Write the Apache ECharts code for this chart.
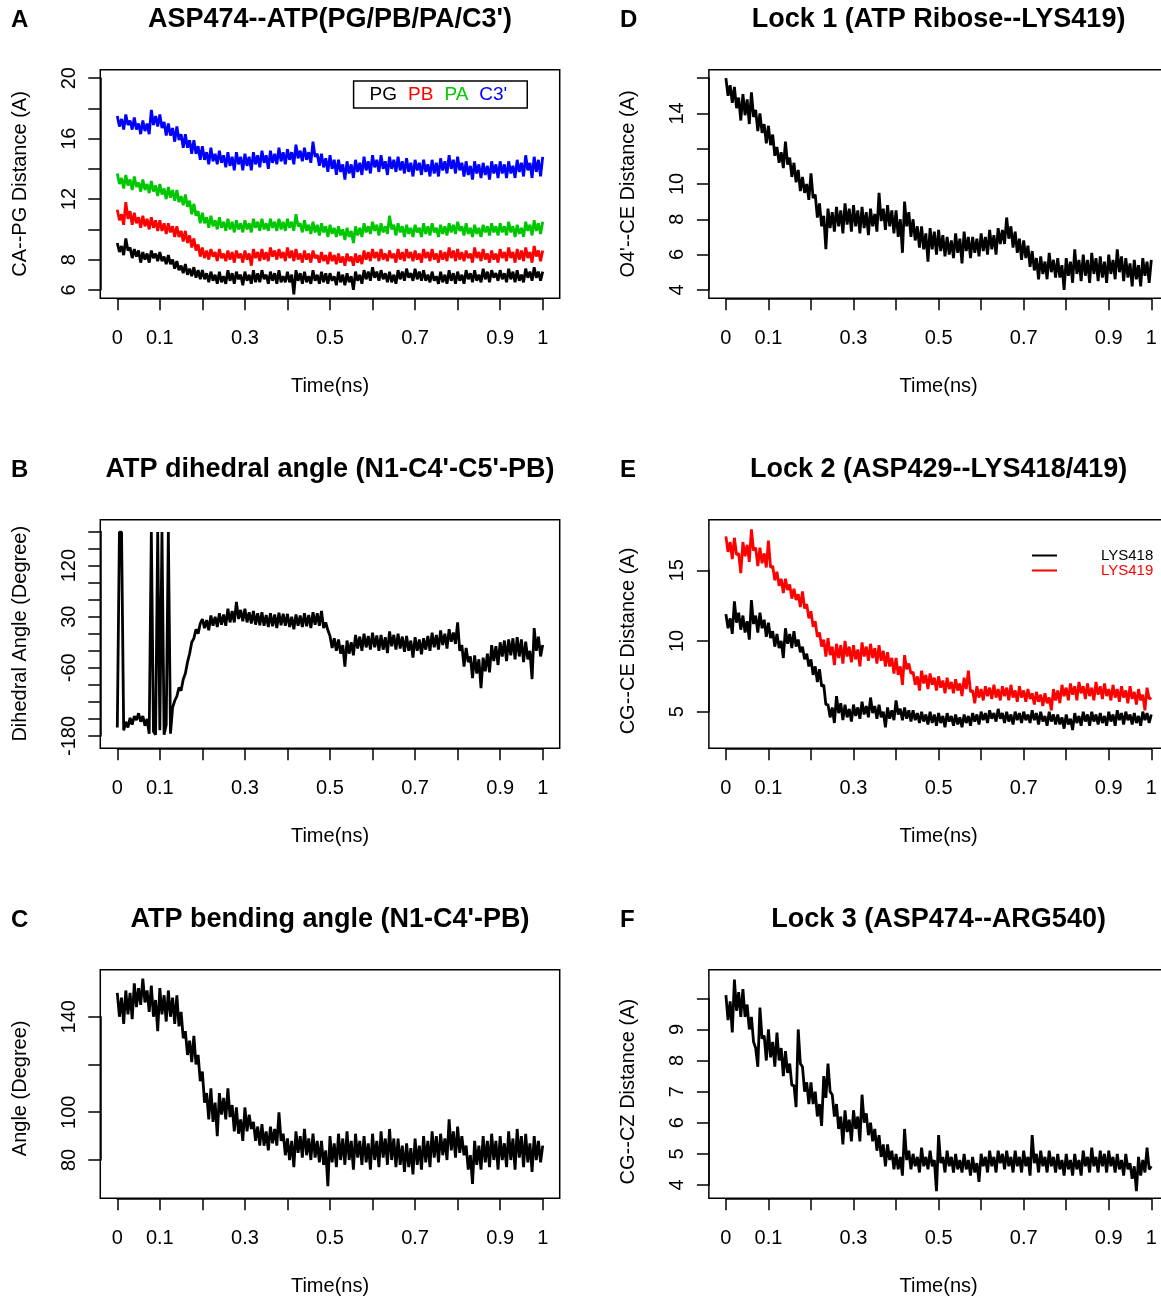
<!DOCTYPE html>
<html>
<head>
<meta charset="utf-8">
<title>ATP lock distances</title>
<script src="https://cdn.jsdelivr.net/npm/echarts@6/dist/echarts.min.js"></script>
<style>
  html, body { margin: 0; padding: 0; background: #fff; overflow: hidden; }
  #chart { width: 1180px; height: 1296px; }
</style>
</head>
<body>
<div id="chart"></div>
<script>
// values, one sample every 0.005 ns (0 .. 1 ns)
const pgDist = [
  9.1, 8.5, 8.9, 8.3, 9.4, 8.6, 8.8, 8.1, 8.7, 8.2, 8.6, 7.8, 8.5, 8.0, 8.4, 7.8, 8.6, 8.1, 8.4, 7.9,
  8.5, 7.9, 8.2, 7.7, 8.3, 7.7, 8.0, 7.4, 7.9, 7.3, 7.6, 7.1, 7.7, 7.0, 7.4, 6.9, 7.5, 6.8, 7.3, 6.7,
  7.3, 6.7, 7.1, 6.5, 7.2, 6.6, 7.0, 6.4, 7.2, 6.5, 6.9, 6.4, 7.3, 6.6, 7.1, 6.4, 7.2, 6.7, 7.0, 6.3,
  7.2, 6.6, 7.0, 6.4, 7.3, 6.5, 7.1, 6.5, 7.3, 6.7, 7.0, 6.4, 7.2, 6.6, 7.1, 6.4, 7.3, 6.5, 6.9, 6.5,
  7.2, 6.5, 7.0, 5.7, 7.3, 6.6, 7.1, 6.4, 7.2, 6.5, 6.9, 6.4, 7.3, 6.6, 7.0, 6.4, 7.2, 6.5, 7.1, 6.4,
  7.1, 6.6, 6.9, 6.3, 7.2, 6.5, 7.0, 6.3, 7.1, 6.5, 6.9, 6.0, 7.2, 6.6, 7.0, 6.4, 7.3, 6.7, 7.2, 6.6,
  7.5, 6.8, 7.2, 6.6, 7.3, 6.7, 7.1, 6.5, 7.2, 6.5, 7.0, 6.4, 7.3, 6.7, 7.2, 6.6, 7.4, 6.8, 7.1, 6.6,
  7.4, 6.7, 7.2, 6.6, 7.3, 6.6, 7.0, 6.5, 7.2, 6.6, 6.9, 6.4, 7.2, 6.5, 7.0, 6.4, 7.3, 6.6, 7.1, 6.4,
  7.2, 6.6, 7.0, 6.4, 7.3, 6.7, 7.1, 6.5, 7.3, 6.6, 7.0, 6.5, 7.4, 6.7, 7.2, 6.5, 7.3, 6.8, 7.1, 6.6,
  7.3, 6.7, 7.1, 6.5, 7.4, 6.7, 7.2, 6.5, 7.3, 6.6, 7.0, 6.5, 7.4, 6.8, 7.2, 6.6, 7.5, 6.8, 7.2, 6.6,
  7.2
];
const pbDist = [
  11.3, 10.6, 11.0, 10.3, 11.8, 10.7, 11.2, 10.3, 11.1, 10.4, 10.8, 10.1, 10.9, 10.2, 10.7, 10.0, 10.8, 10.1, 10.6, 9.9,
  10.6, 9.9, 10.4, 9.7, 10.4, 9.8, 10.2, 9.5, 10.2, 9.5, 9.9, 9.2, 9.9, 9.1, 9.6, 8.8, 9.4, 8.6, 9.0, 8.2,
  8.8, 8.1, 8.6, 8.0, 8.7, 8.2, 8.5, 7.9, 8.7, 8.1, 8.4, 7.9, 8.6, 8.0, 8.5, 7.8, 8.6, 8.1, 8.4, 7.8,
  8.6, 8.0, 8.4, 7.6, 8.7, 8.1, 8.5, 7.9, 8.7, 8.0, 8.5, 7.9, 8.8, 8.2, 8.6, 8.0, 8.7, 8.1, 8.5, 7.9,
  8.8, 8.1, 8.6, 7.9, 8.7, 8.0, 8.4, 7.8, 8.6, 8.0, 8.4, 7.8, 8.6, 8.1, 8.3, 7.8, 8.5, 7.9, 8.3, 7.7,
  8.5, 7.9, 8.3, 7.7, 8.4, 7.8, 8.2, 7.6, 8.4, 7.9, 8.2, 7.6, 8.4, 7.8, 8.3, 7.7, 8.6, 8.0, 8.5, 7.9,
  8.7, 8.1, 8.5, 7.9, 8.7, 8.0, 8.4, 7.9, 8.6, 8.1, 8.4, 7.8, 8.7, 8.0, 8.5, 7.9, 8.7, 8.1, 8.5, 7.9,
  8.6, 8.0, 8.4, 7.8, 8.7, 8.1, 8.5, 7.9, 8.7, 8.0, 8.4, 7.8, 8.6, 8.0, 8.5, 7.9, 8.8, 8.1, 8.6, 7.9,
  8.7, 8.0, 8.5, 7.9, 8.6, 8.1, 8.4, 7.8, 8.8, 8.1, 8.5, 7.9, 8.7, 8.0, 8.4, 7.8, 8.6, 8.0, 8.4, 7.8,
  8.7, 8.1, 8.5, 7.9, 8.8, 8.1, 8.5, 7.8, 8.7, 8.0, 8.6, 7.9, 8.8, 8.1, 8.5, 7.8, 8.9, 8.2, 8.6, 7.9,
  8.6
];
const paDist = [
  13.7, 13.0, 13.4, 12.7, 13.6, 12.9, 13.3, 12.6, 13.5, 12.8, 13.1, 12.5, 13.3, 12.6, 13.0, 12.4, 13.2, 12.5, 12.9, 12.2,
  13.0, 12.3, 12.7, 12.0, 12.8, 12.1, 12.6, 11.9, 12.6, 11.8, 12.2, 11.6, 12.3, 11.5, 11.9, 11.0, 11.7, 10.9, 11.2, 10.4,
  11.1, 10.4, 10.8, 10.1, 10.9, 10.2, 10.6, 10.0, 10.8, 10.1, 10.5, 9.9, 10.7, 10.0, 10.5, 9.8, 10.6, 10.0, 10.4, 9.8,
  10.6, 10.0, 10.4, 9.8, 10.7, 10.1, 10.5, 9.9, 10.7, 10.0, 10.4, 9.9, 10.7, 10.1, 10.5, 9.9, 10.7, 10.0, 10.5, 9.9,
  10.7, 10.1, 10.5, 9.9, 11.0, 10.2, 10.4, 9.8, 10.6, 9.9, 10.3, 9.7, 10.5, 9.8, 10.3, 9.6, 10.4, 9.8, 10.2, 9.5,
  10.3, 9.7, 10.1, 9.5, 10.2, 9.6, 10.0, 9.3, 10.1, 9.5, 9.9, 9.1, 10.2, 9.6, 10.1, 9.5, 10.4, 9.8, 10.2, 9.7,
  10.5, 9.9, 10.3, 9.6, 10.4, 9.8, 10.2, 9.7, 10.9, 10.0, 10.3, 9.6, 10.4, 9.8, 10.2, 9.5, 10.3, 9.7, 10.1, 9.5,
  10.3, 9.8, 10.1, 9.5, 10.4, 9.7, 10.2, 9.6, 10.4, 9.8, 10.1, 9.5, 10.3, 9.7, 10.2, 9.6, 10.4, 9.8, 10.3, 9.7,
  10.5, 9.9, 10.2, 9.6, 10.4, 9.7, 10.1, 9.5, 10.3, 9.7, 10.1, 9.5, 10.3, 9.8, 10.2, 9.6, 10.4, 9.8, 10.2, 9.6,
  10.4, 9.8, 10.2, 9.6, 10.5, 9.8, 10.2, 9.5, 10.3, 9.7, 10.1, 9.5, 10.5, 9.9, 10.3, 9.6, 10.6, 9.9, 10.4, 9.7,
  10.5
];
const c3Dist = [
  17.5, 16.8, 17.3, 16.6, 17.6, 16.9, 17.2, 16.6, 17.4, 16.6, 17.0, 16.3, 17.2, 16.5, 17.0, 16.3, 17.9, 16.9, 17.5, 16.8,
  17.6, 16.7, 17.1, 16.2, 17.0, 16.2, 16.7, 15.8, 16.8, 15.9, 16.3, 15.4, 16.3, 15.4, 15.9, 15.0, 15.9, 15.0, 15.5, 14.6,
  15.5, 14.6, 15.1, 14.3, 15.4, 14.5, 15.0, 14.3, 15.2, 14.4, 14.9, 14.1, 15.1, 14.2, 14.8, 13.9, 15.1, 14.3, 14.8, 13.9,
  15.0, 14.2, 14.8, 13.9, 15.1, 14.3, 14.9, 14.1, 15.2, 14.4, 14.9, 14.0, 15.2, 14.4, 15.0, 14.3, 15.4, 14.5, 15.1, 14.3,
  15.3, 14.6, 15.1, 14.3, 15.6, 14.7, 15.2, 14.5, 15.4, 14.6, 15.1, 14.4, 15.8, 14.8, 15.0, 14.2, 15.0, 14.1, 14.7, 13.8,
  14.9, 14.0, 14.6, 13.6, 14.6, 13.8, 14.3, 13.3, 14.5, 13.7, 14.3, 13.4, 14.6, 13.8, 14.4, 13.6, 14.8, 13.9, 14.5, 13.7,
  14.9, 14.1, 14.6, 13.8, 14.9, 14.0, 14.5, 13.6, 14.8, 14.0, 14.6, 13.8, 14.8, 13.9, 14.5, 13.7, 14.7, 13.8, 14.4, 13.5,
  14.6, 13.9, 14.4, 13.6, 14.6, 13.8, 14.3, 13.5, 14.6, 13.7, 14.4, 13.5, 14.7, 13.9, 14.5, 13.7, 14.9, 14.0, 14.6, 13.7,
  14.8, 13.9, 14.4, 13.5, 14.5, 13.6, 14.2, 13.3, 14.5, 13.7, 14.3, 13.4, 14.4, 13.6, 14.2, 13.3, 14.5, 13.7, 14.3, 13.4,
  14.5, 13.7, 14.3, 13.4, 14.5, 13.7, 14.2, 13.4, 14.6, 13.8, 14.4, 13.5, 14.9, 13.9, 14.4, 13.4, 14.8, 13.8, 14.6, 13.5,
  14.8
];
const dihedral = [
  -165, 179, 179, -170, -155, -165, -148, -160, -145, -152, -140, -155, -145, -162, -150, -176, 179, -172, -178, 179,
  -170, 179, -178, -160, 179, -176, -130, -118, -110, -95, -100, -80, -70, -50, -35, -15, -8, 8, 0, 18,
  26, 10, 24, 6, 32, 14, 30, 12, 36, 16, 34, 14, 44, 20, 40, 20, 56, 26, 42, 22,
  44, 20, 38, 18, 40, 16, 36, 15, 38, 14, 33, 12, 36, 13, 34, 10, 37, 15, 35, 14,
  35, 12, 30, 8, 34, 14, 32, 12, 36, 13, 33, 10, 38, 16, 36, 14, 40, 10, 20, 6,
  -4, -25, -8, -30, -10, -35, -20, -58, -12, -35, -15, -38, -2, -26, -5, -30, 0, -24, -4, -28,
  2, -24, -3, -30, -2, -28, -6, -34, 4, -22, -2, -28, 0, -26, -5, -32, -4, -30, -12, -42,
  -6, -30, -10, -36, -8, -28, -4, -30, 2, -24, -2, -28, 6, -20, 0, -26, 8, -14, 2, -18,
  20, -30, -20, -58, -25, -50, -40, -78, -38, -70, -45, -96, -42, -66, -35, -68, -20, -48, -22, -55,
  -15, -40, -12, -48, -10, -38, -8, -45, -6, -40, -10, -50, -14, -45, -30, -80, 10, -30, -5, -40,
  -20
];
const bending = [
  150, 140, 148, 137, 151, 141, 150, 139, 154, 144, 152, 145, 156, 146, 151, 142, 153, 140, 147, 134,
  152, 141, 149, 138, 151, 140, 148, 137, 149, 136, 142, 131, 134, 124, 130, 121, 132, 120, 124, 113,
  117, 104, 108, 97, 110, 96, 104, 90, 108, 99, 106, 97, 110, 98, 103, 92, 102, 91, 97, 88,
  102, 92, 99, 93, 96, 88, 94, 86, 95, 86, 92, 84, 94, 87, 93, 86, 100, 88, 91, 82,
  89, 80, 88, 77, 92, 83, 90, 81, 93, 82, 89, 80, 91, 81, 88, 79, 88, 78, 84, 69,
  90, 79, 87, 77, 91, 80, 89, 78, 92, 80, 88, 76, 91, 81, 88, 78, 90, 79, 87, 76,
  91, 80, 88, 77, 92, 81, 89, 78, 93, 80, 89, 77, 89, 78, 86, 75, 87, 77, 85, 74,
  89, 78, 86, 76, 90, 79, 88, 77, 92, 81, 90, 79, 91, 82, 89, 80, 97, 84, 92, 81,
  94, 83, 90, 82, 86, 76, 82, 70, 88, 78, 86, 76, 90, 79, 88, 77, 91, 80, 88, 76,
  90, 80, 87, 77, 92, 80, 89, 76, 93, 81, 90, 77, 91, 79, 87, 75, 90, 80, 88, 79,
  86
];
const lock1 = [
  16.0, 15.0, 15.6, 14.6, 15.5, 14.3, 14.9, 13.6, 15.1, 13.9, 14.8, 13.4, 15.2, 13.8, 14.2, 13.0, 14.0, 12.9, 13.4, 12.3,
  13.3, 12.2, 12.8, 11.6, 12.1, 11.2, 11.8, 10.9, 12.4, 11.1, 11.5, 10.4, 11.2, 10.1, 10.8, 9.6, 10.4, 9.5, 10.0, 9.1,
  10.6, 9.2, 9.4, 8.1, 8.9, 7.6, 8.2, 6.3, 8.6, 7.5, 8.4, 7.3, 8.7, 7.6, 8.5, 7.2, 8.9, 7.7, 8.6, 7.3,
  8.8, 7.6, 8.5, 7.2, 8.7, 7.5, 8.4, 7.1, 8.6, 7.6, 8.3, 7.3, 9.5, 7.9, 8.6, 7.4, 8.8, 7.6, 8.5, 7.2,
  8.5, 7.0, 8.0, 6.1, 9.0, 7.6, 8.4, 7.0, 8.0, 6.8, 7.6, 6.4, 7.6, 6.3, 7.2, 5.6, 7.5, 6.3, 7.3, 6.0,
  7.4, 6.2, 7.1, 5.9, 7.0, 6.0, 6.8, 5.8, 7.2, 6.1, 6.9, 5.5, 7.3, 6.2, 7.0, 5.8, 7.0, 6.1, 6.9, 5.9,
  7.2, 6.2, 7.0, 6.0, 7.4, 6.3, 7.1, 6.0, 7.5, 6.6, 7.4, 6.6, 8.1, 6.9, 7.6, 6.4, 7.3, 6.1, 6.9, 5.7,
  6.8, 5.8, 6.5, 5.3, 6.2, 5.1, 5.8, 4.6, 5.9, 4.9, 5.6, 4.6, 6.1, 5.0, 5.7, 4.7, 5.8, 4.7, 5.4, 4.0,
  5.8, 4.8, 5.6, 4.4, 6.3, 4.9, 5.7, 4.5, 6.0, 4.8, 5.7, 4.4, 6.1, 4.9, 5.8, 4.5, 5.9, 4.7, 5.6, 4.4,
  6.0, 4.9, 5.7, 4.6, 6.3, 5.0, 5.9, 4.5, 5.8, 4.7, 5.5, 4.2, 5.7, 4.6, 5.4, 4.2, 5.8, 4.8, 5.6, 4.4,
  5.7
];
const lys418 = [
  11.9, 10.9, 11.6, 10.5, 12.8, 11.3, 12.0, 10.8, 11.8, 10.6, 11.4, 10.1, 12.9, 11.2, 11.8, 10.6, 12.0, 10.9, 11.5, 10.3,
  11.3, 10.2, 10.7, 9.6, 10.5, 9.5, 10.0, 8.8, 10.9, 9.8, 10.5, 9.5, 10.7, 9.6, 10.1, 9.2, 9.6, 8.7, 9.1, 8.2,
  8.7, 7.6, 8.2, 7.1, 8.0, 6.8, 6.9, 5.5, 5.5, 4.6, 5.3, 4.2, 6.1, 4.9, 5.6, 4.4, 5.5, 4.6, 5.2, 4.3,
  5.5, 4.7, 5.3, 4.5, 5.7, 4.8, 5.4, 4.6, 6.0, 4.9, 5.4, 4.5, 5.5, 4.6, 5.0, 3.9, 5.3, 4.5, 5.1, 4.4,
  5.8, 4.8, 5.2, 4.4, 5.3, 4.5, 5.1, 4.3, 5.1, 4.4, 4.9, 4.2, 5.0, 4.3, 4.8, 4.1, 5.0, 4.2, 4.8, 4.0,
  4.9, 4.2, 4.7, 3.9, 4.9, 4.3, 4.7, 4.0, 4.8, 4.1, 4.6, 3.9, 4.8, 4.2, 4.7, 4.0, 4.9, 4.3, 4.8, 4.1,
  5.0, 4.4, 4.9, 4.2, 5.1, 4.5, 4.9, 4.3, 5.2, 4.5, 4.9, 4.2, 5.0, 4.3, 4.8, 4.1, 5.0, 4.4, 4.9, 4.2,
  5.0, 4.4, 4.8, 4.2, 5.1, 4.4, 4.9, 4.1, 5.0, 4.3, 4.7, 4.0, 5.0, 4.3, 4.8, 4.1, 4.8, 4.1, 4.6, 3.8,
  4.8, 4.1, 4.5, 3.7, 4.9, 4.2, 4.7, 4.0, 5.0, 4.3, 4.8, 4.0, 5.0, 4.3, 4.8, 4.1, 4.9, 4.2, 4.7, 4.0,
  5.0, 4.3, 4.8, 4.0, 5.1, 4.4, 4.9, 4.1, 5.0, 4.4, 4.8, 4.1, 4.9, 4.2, 4.7, 4.0, 5.0, 4.4, 4.9, 4.2,
  4.8
];
const lys419 = [
  17.4, 16.3, 17.0, 15.8, 17.3, 16.1, 16.2, 14.8, 17.0, 16.0, 16.8, 15.6, 17.9, 16.4, 16.6, 15.3, 16.6, 15.5, 16.2, 15.2,
  17.1, 15.2, 15.3, 14.3, 14.9, 13.9, 14.4, 13.4, 14.4, 13.6, 14.0, 13.0, 13.7, 12.9, 13.3, 12.4, 13.5, 12.3, 12.6, 11.6,
  12.1, 11.0, 11.4, 10.3, 10.6, 9.6, 10.1, 8.9, 10.2, 9.0, 9.6, 8.3, 9.8, 8.8, 9.7, 8.4, 10.0, 8.9, 9.6, 8.5,
  9.7, 8.7, 9.4, 8.2, 9.9, 8.9, 9.6, 8.6, 9.8, 8.8, 9.5, 8.4, 9.7, 8.6, 9.3, 8.2, 9.2, 8.2, 8.8, 7.7,
  8.8, 7.6, 8.2, 6.9, 9.0, 8.0, 8.4, 7.7, 7.8, 6.9, 7.5, 6.5, 7.9, 7.0, 7.6, 6.6, 7.7, 6.9, 7.4, 6.5,
  7.5, 6.7, 7.2, 6.3, 7.4, 6.6, 7.1, 6.3, 7.3, 6.5, 7.0, 6.1, 7.4, 6.6, 7.9, 6.4, 6.5, 5.6, 6.8, 6.0,
  6.6, 5.8, 6.8, 6.1, 6.7, 5.9, 6.9, 6.0, 6.6, 5.8, 6.8, 6.1, 6.7, 5.8, 6.9, 6.0, 6.5, 5.7, 6.8, 6.0,
  6.5, 5.7, 6.6, 5.9, 6.3, 5.5, 6.4, 5.7, 6.2, 5.4, 6.3, 5.6, 6.0, 5.1, 6.6, 5.8, 6.5, 5.6, 6.9, 6.1,
  6.7, 5.8, 7.0, 6.2, 6.8, 5.8, 7.1, 6.3, 6.8, 5.9, 7.0, 6.1, 6.7, 5.8, 7.1, 6.2, 6.8, 5.9, 7.0, 6.1,
  6.6, 5.8, 6.9, 6.0, 6.6, 5.7, 6.8, 6.0, 6.5, 5.6, 6.8, 5.9, 6.4, 5.5, 6.6, 5.8, 6.2, 5.1, 6.7, 5.9,
  6.0
];
const lock3 = [
  10.1, 9.3, 9.9, 8.9, 10.6, 9.6, 10.2, 9.4, 10.3, 9.4, 9.8, 9.0, 9.4, 8.6, 8.4, 7.8, 9.7, 8.7, 8.8, 8.0,
  9.0, 8.1, 8.6, 7.8, 8.9, 8.0, 8.4, 7.5, 8.3, 7.6, 7.9, 7.2, 7.2, 6.5, 9.0, 7.9, 7.8, 7.0, 7.3, 6.6,
  7.3, 6.6, 7.0, 6.2, 6.6, 5.9, 7.5, 6.8, 7.9, 7.0, 6.9, 6.2, 6.6, 5.8, 6.2, 5.3, 6.4, 5.7, 6.1, 5.4,
  6.4, 5.8, 6.2, 5.4, 6.9, 6.0, 6.3, 5.6, 6.0, 5.4, 5.8, 5.1, 5.6, 4.9, 5.3, 4.6, 5.3, 4.8, 5.1, 4.5,
  5.0, 4.5, 4.9, 4.3, 5.8, 4.8, 5.1, 4.5, 5.0, 4.6, 4.9, 4.4, 5.2, 4.6, 4.9, 4.5, 5.1, 4.6, 4.8, 3.8,
  5.6, 4.7, 4.9, 4.4, 5.1, 4.6, 4.9, 4.4, 5.0, 4.5, 4.8, 4.4, 5.0, 4.5, 4.8, 4.3, 4.9, 4.4, 4.7, 4.1,
  5.0, 4.6, 4.9, 4.4, 5.1, 4.6, 4.9, 4.4, 5.1, 4.7, 5.0, 4.5, 5.1, 4.6, 4.9, 4.4, 5.1, 4.6, 4.9, 4.4,
  5.1, 4.6, 4.9, 4.3, 5.6, 4.7, 5.0, 4.4, 5.1, 4.6, 4.9, 4.4, 5.1, 4.6, 4.9, 4.4, 5.0, 4.5, 4.8, 4.3,
  5.0, 4.5, 4.8, 4.3, 5.0, 4.5, 4.8, 4.3, 5.1, 4.6, 4.9, 4.4, 5.2, 4.6, 4.9, 4.4, 5.1, 4.6, 5.0, 4.4,
  5.1, 4.6, 4.9, 4.4, 5.0, 4.5, 4.8, 4.3, 5.0, 4.5, 4.7, 4.2, 4.6, 3.8, 4.9, 4.3, 4.8, 4.4, 5.2, 4.5,
  4.6
];

// tick labels that R actually printed
const xTickLabels = [0, 0.1, 0.3, 0.5, 0.7, 0.9, 1];
const yLabelsA = [6, 8, 12, 16, 20];
const yLabelsB = [-180, -60, 30, 120];
const yLabelsC = [80, 100, 140];
const yLabelsD = [4, 6, 8, 10, 14];
const yLabelsE = [5, 10, 15];
const yLabelsF = [4, 5, 6, 7, 8, 9];

const time = pgDist.map((_, i) => i / 200);

const FONT = '"Liberation Sans", Arial, Helvetica, sans-serif';
const colZero = [117.3, 725.9];   // pixel of t = 0 in each column
const rowTop = [69.7, 519.7, 969.7];
const pxPerNs = 425.4;
const boxH = 228.6;
const pad = 0.04 * pxPerNs;       // R's 4% axis padding

const panels = [
  { letter: 'A', col: 0, row: 0, title: "ASP474--ATP(PG/PB/PA/C3')", yName: 'CA--PG Distance (A)',
    yBox: [5.44, 20.56], yTick: [6, 20, 2], yLabels: yLabelsA,
    lines: [['PG', pgDist, '#000000'], ['PB', pbDist, '#ff0000'], ['PA', paDist, '#00c800'], ["C3'", c3Dist, '#0000ff']] },
  { letter: 'B', col: 0, row: 1, title: "ATP dihedral angle (N1-C4'-C5'-PB)", yName: 'Dihedral Angle (Degree)',
    yBox: [-201.7, 200.8], yTick: [-180, 180, 30], yLabels: yLabelsB,
    lines: [['dihedral', dihedral, '#000000']] },
  { letter: 'C', col: 0, row: 2, title: "ATP bending angle (N1-C4'-PB)", yName: 'Angle (Degree)',
    yBox: [63.96, 159.7], yTick: [80, 140, 20], yLabels: yLabelsC,
    lines: [['bending', bending, '#000000']] },
  { letter: 'D', col: 1, row: 0, title: 'Lock 1 (ATP Ribose--LYS419)', yName: "O4'--CE Distance (A)",
    yBox: [3.52, 16.48], yTick: [4, 16, 2], yLabels: yLabelsD,
    lines: [['lock1', lock1, '#000000']] },
  { letter: 'E', col: 1, row: 1, title: 'Lock 2 (ASP429--LYS418/419)', yName: 'CG--CE Distance (A)',
    yBox: [2.41, 18.58], yTick: [5, 15, 5], yLabels: yLabelsE,
    lines: [['LYS418', lys418, '#000000'], ['LYS419', lys419, '#ff0000']] },
  { letter: 'F', col: 1, row: 2, title: 'Lock 3 (ASP474--ARG540)', yName: 'CG--CZ Distance (A)',
    yBox: [3.57, 10.92], yTick: [4, 10, 1], yLabels: yLabelsF,
    lines: [['lock3', lock3, '#000000']] }
];

const pickLabel = (list) => (v) => list.some(l => Math.abs(l - v) < 1e-6) ? String(+v.toFixed(2)) : '';

const grid = [], xAxis = [], yAxis = [], series = [], title = [];

panels.forEach((p, k) => {
  const top = rowTop[p.row];
  const yPix = v => top + (p.yBox[1] - v) / (p.yBox[1] - p.yBox[0]) * boxH;
  const tickTop = yPix(p.yTick[1]);
  const tickBottom = yPix(p.yTick[0]);

  // plot box, holds the data
  grid.push({ left: colZero[p.col] - pad, top: top, width: 1.08 * pxPerNs, height: boxH,
    show: true, borderColor: '#000', borderWidth: 1.5, backgroundColor: 'transparent', outerBoundsMode: 'none' });
  // axes grid: spans exactly the tick range, like R's axis()
  grid.push({ left: colZero[p.col], top: tickTop, width: pxPerNs, height: tickBottom - tickTop, outerBoundsMode: 'none' });

  xAxis.push({ gridIndex: 2 * k, type: 'value', min: -0.04, max: 1.04, show: false });
  yAxis.push({ gridIndex: 2 * k, type: 'value', min: p.yBox[0], max: p.yBox[1], show: false });

  xAxis.push({
    gridIndex: 2 * k + 1, type: 'value', min: 0, max: 1, interval: 0.1,
    position: 'bottom', offset: top + boxH - tickBottom,
    name: 'Time(ns)', nameLocation: 'middle', nameGap: 78,
    nameTextStyle: { fontSize: 20, color: '#000', fontFamily: FONT },
    axisLine: { show: true, onZero: false, lineStyle: { color: '#000', width: 1.5 } },
    axisTick: { show: true, length: 12, lineStyle: { color: '#000', width: 1.5 } },
    axisLabel: { margin: 30, fontSize: 20, color: '#000', fontFamily: FONT, formatter: pickLabel(xTickLabels) },
    splitLine: { show: false }
  });
  yAxis.push({
    gridIndex: 2 * k + 1, type: 'value', min: p.yTick[0], max: p.yTick[1], interval: p.yTick[2],
    position: 'left', offset: pad,
    name: p.yName, nameLocation: 'middle', nameRotate: 90, nameGap: 70,
    nameTextStyle: { fontSize: 20, color: '#000', fontFamily: FONT },
    axisLine: { show: true, onZero: false, lineStyle: { color: '#000', width: 1.5 } },
    axisTick: { show: true, length: 12, lineStyle: { color: '#000', width: 1.5 } },
    axisLabel: { rotate: 90, margin: 21, fontSize: 20, color: '#000', fontFamily: FONT, formatter: pickLabel(p.yLabels) },
    splitLine: { show: false }
  });

  p.lines.forEach(([name, vals, color]) => {
    series.push({
      type: 'line', name: name, xAxisIndex: 2 * k, yAxisIndex: 2 * k,
      data: time.map((t, i) => [t, vals[i]]),
      symbol: 'none', showSymbol: false, silent: true,
      lineStyle: { color: color, width: 2.8 }, itemStyle: { color: color }
    });
  });

  title.push({ text: p.title, left: colZero[p.col] + 0.5 * pxPerNs, top: 6 + 450 * p.row, textAlign: 'center', padding: 0,
    textStyle: { fontSize: 27, fontWeight: 'bold', color: '#000', fontFamily: FONT } });
  title.push({ text: p.letter, left: 11 + 609 * p.col, top: 8 + 450 * p.row, padding: 0,
    textStyle: { fontSize: 24, fontWeight: 'bold', color: '#000', fontFamily: FONT } });
});

const chart = echarts.init(document.getElementById('chart'));
chart.setOption({
  animation: false,
  backgroundColor: '#fff',
  textStyle: { fontFamily: FONT },
  title: title,
  legend: [
    {
      data: [
        { name: 'PG', textStyle: { color: '#000000' } },
        { name: 'PB', textStyle: { color: '#ff0000' } },
        { name: 'PA', textStyle: { color: '#00c800' } },
        { name: "C3'", textStyle: { color: '#0000ff' } }
      ],
      left: 353.6, top: 81, icon: 'none', itemWidth: 0, itemGap: 6,
      padding: [4, 20, 4, 11], borderColor: '#000', borderWidth: 1.5, selectedMode: false,
      textStyle: { fontSize: 19, fontFamily: FONT }
    },
    {
      data: [
        { name: 'LYS418', textStyle: { color: '#000000' } },
        { name: 'LYS419', textStyle: { color: '#ff0000' } }
      ],
      orient: 'vertical', left: 1032, top: 548, icon: 'rect', itemWidth: 25, itemHeight: 2, itemGap: 0,
      padding: 0, selectedMode: false,
      textStyle: { fontSize: 15, lineHeight: 15, fontFamily: FONT, padding: [0, 0, 0, 39] }
    }
  ],
  grid: grid,
  xAxis: xAxis,
  yAxis: yAxis,
  series: series
});
</script>
</body>
</html>
